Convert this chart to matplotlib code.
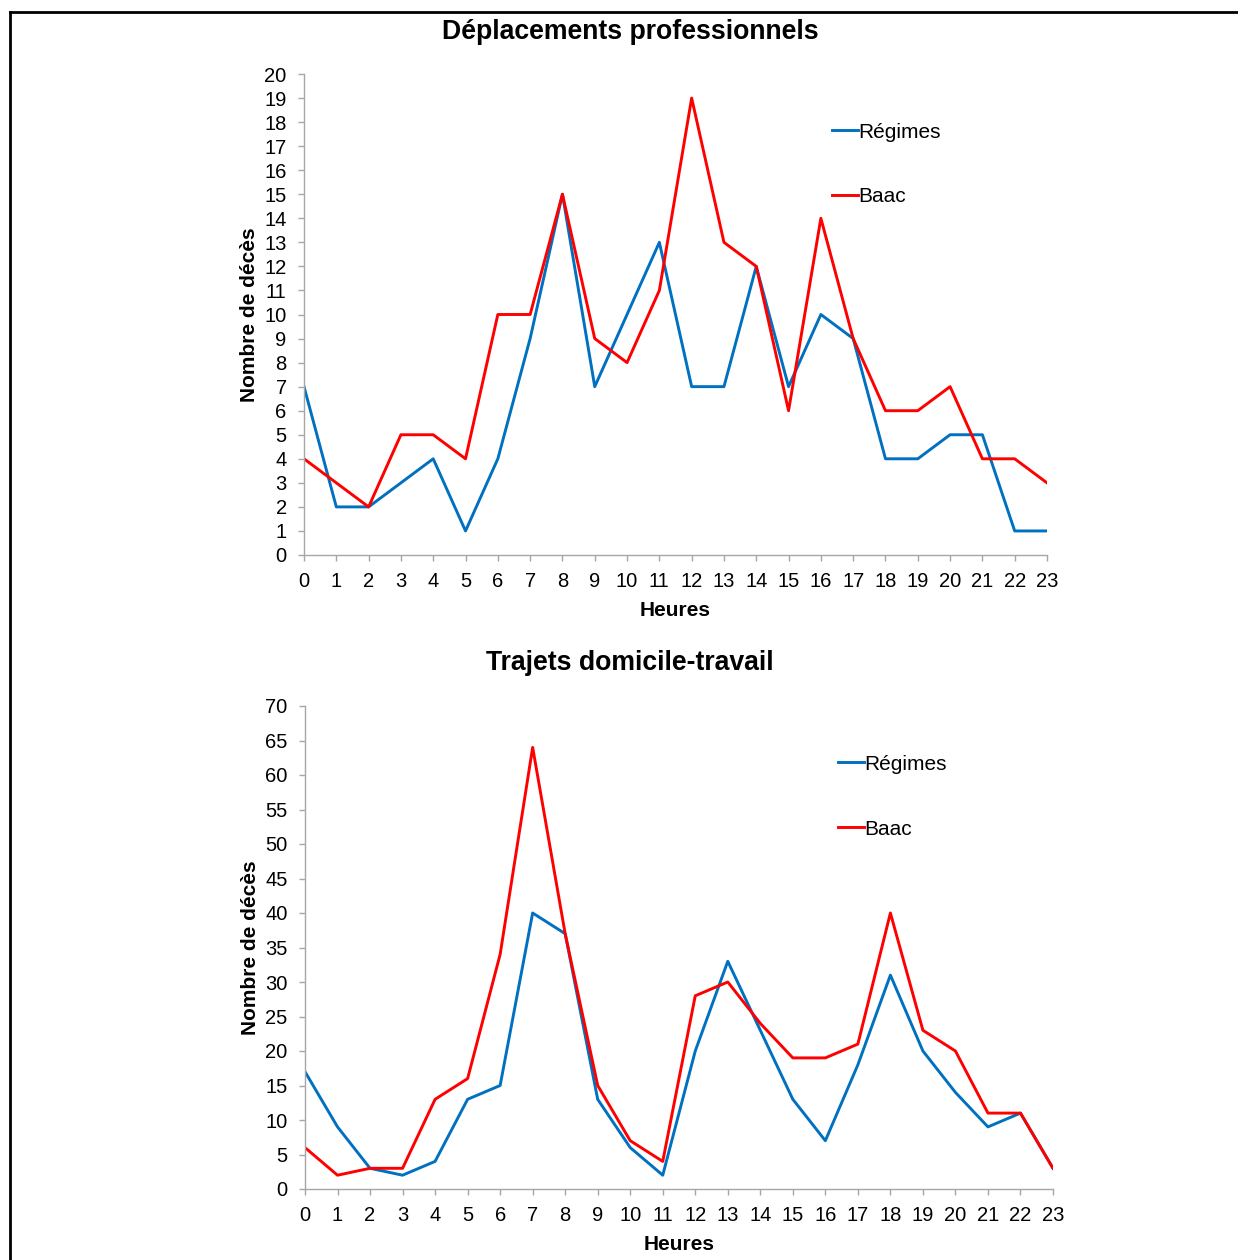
import matplotlib
matplotlib.use("Agg")
import matplotlib.pyplot as plt
from matplotlib.lines import Line2D

plt.rcParams['font.family'] = ['Liberation Sans', 'DejaVu Sans']

heures = list(range(24))

# Déplacements professionnels
pro_regimes = [7, 2, 2, 3, 4, 1, 4, 9, 15, 7, 10, 13, 7, 7, 12, 7, 10, 9, 4, 4, 5, 5, 1, 1]
pro_baac = [4, 3, 2, 5, 5, 4, 10, 10, 15, 9, 8, 11, 19, 13, 12, 6, 14, 9, 6, 6, 7, 4, 4, 3]

# Trajets domicile-travail
traj_regimes = [17, 9, 3, 2, 4, 13, 15, 40, 37, 13, 6, 2, 20, 33, 23, 13, 7, 18, 31, 20, 14, 9, 11, 3]
traj_baac = [6, 2, 3, 3, 13, 16, 34, 64, 37, 15, 7, 4, 28, 30, 24, 19, 19, 21, 40, 23, 20, 11, 11, 3]

titles = ['Déplacements professionnels', 'Trajets domicile-travail']
BLUE = '#0070C0'
RED = '#FF0000'
GREY = '#A6A6A6'

W, H = 1238, 1260
fig = plt.figure(figsize=(W / 100, H / 100), dpi=100)


def px_axes(l, r, t, b):
    return fig.add_axes([l / W, 1 - b / H, (r - l) / W, (b - t) / H])


def draw(ax, reg, baac, ymax, ystep, leg_x, leg_y):
    ax.plot(heures, reg, color=BLUE, lw=2.1, label='Régimes')
    ax.plot(heures, baac, color=RED, lw=2.1, label='Baac')
    ax.set_xlim(0, 23)
    ax.set_ylim(0, ymax)
    ax.set_xticks(heures)
    ax.set_yticks(range(0, ymax + 1, ystep))
    for s in ['top', 'right']:
        ax.spines[s].set_visible(False)
    for s in ['left', 'bottom']:
        ax.spines[s].set_color(GREY)
        ax.spines[s].set_linewidth(1.0)
    ax.tick_params(axis='both', colors=GREY, labelcolor='black', labelsize=14.5,
                   length=4.5, width=1.0, direction='out')
    ax.tick_params(axis='y', pad=8)
    ax.tick_params(axis='x', pad=7.5)
    ax.set_xlabel('Heures', fontsize=15, fontweight='bold', labelpad=7.5)
    ax.set_ylabel('Nombre de décès', fontsize=15, fontweight='bold', labelpad=4)
    ax.legend(loc='upper left', bbox_to_anchor=(leg_x, leg_y), frameon=False,
              fontsize=15, handlelength=1.25, handletextpad=0.0,
              labelspacing=2.2, borderpad=0, borderaxespad=0)


ax1 = px_axes(304, 1047, 74, 555)
draw(ax1, pro_regimes, pro_baac, 20, 1, 0.711, 0.899)
fig.text(630 / W, 1 - 32 / H, titles[0], ha='center', va='center',
         fontsize=19.2, fontweight='bold')

ax2 = px_axes(305, 1053, 706, 1189)
draw(ax2, traj_regimes, traj_baac, 70, 5, 0.7126, 0.899)
fig.text(630 / W, 1 - 663 / H, titles[1], ha='center', va='center',
         fontsize=19.2, fontweight='bold')

# cadre
fig.add_artist(Line2D([10 / W, 1], [1 - 12 / H, 1 - 12 / H], color='black', lw=2,
                      transform=fig.transFigure))
fig.add_artist(Line2D([10 / W, 10 / W], [0, 1 - 12 / H], color='black', lw=2,
                      transform=fig.transFigure))

fig.savefig('out.png', dpi=100)
